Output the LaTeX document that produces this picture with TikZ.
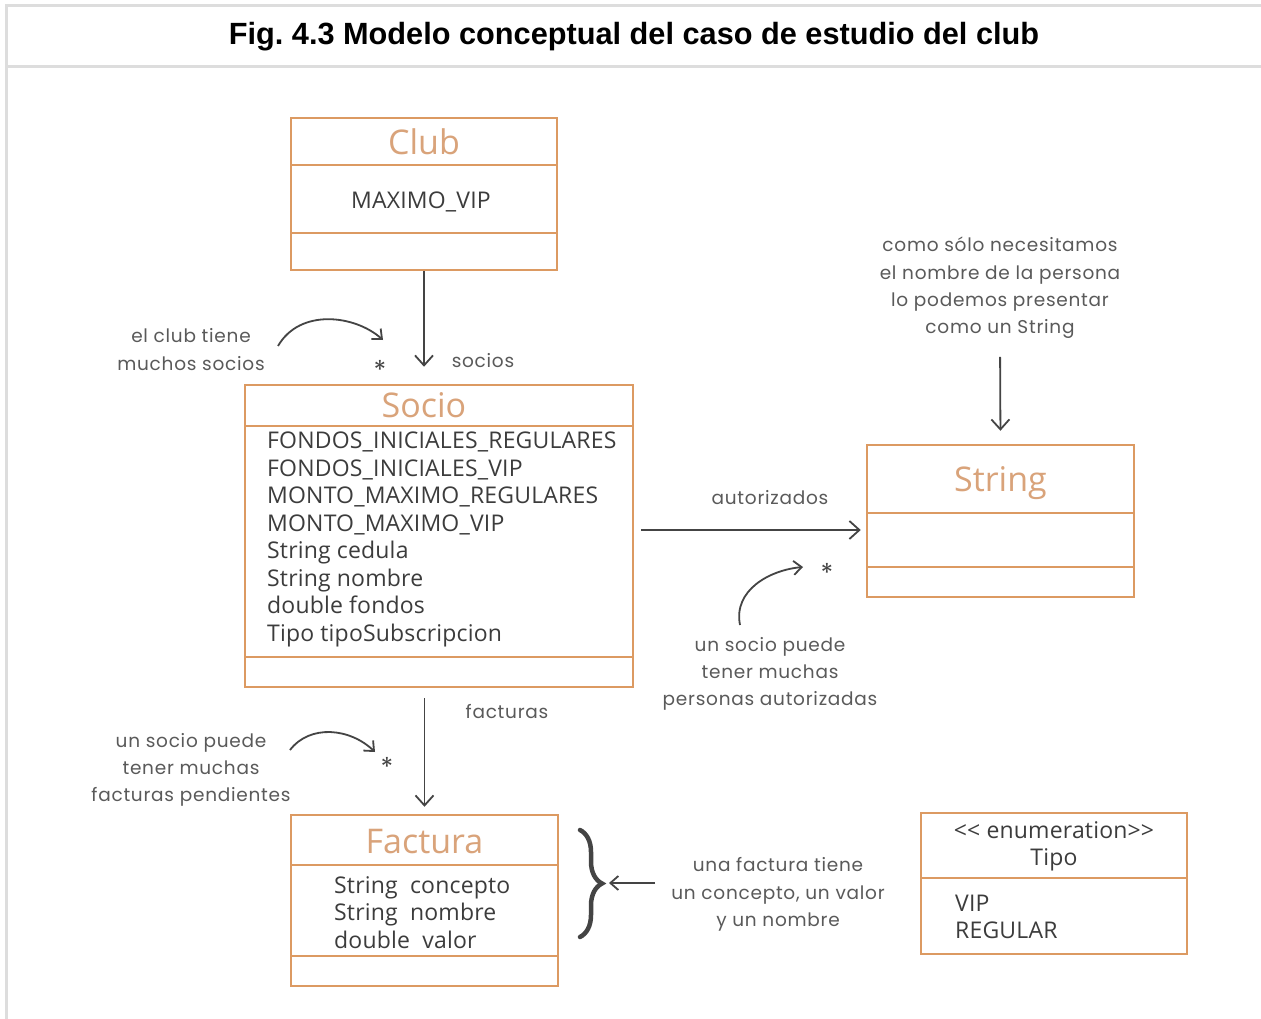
\documentclass[tikz,border=0pt]{standalone}
\usepackage{fontspec}
\newfontfamily\boxfont{Open Sans}[LetterSpace=0.8]
\newfontfamily\namefont{Open Sans}
\newfontfamily\titlefont{Liberation Sans}
\newfontfamily\handfont{Poppins}[LetterSpace=4]
\usetikzlibrary{arrows.meta,decorations.pathreplacing}
\definecolor{boxc}{HTML}{DC9A62}
\definecolor{namec}{HTML}{D9A37A}
\definecolor{txtc}{HTML}{3C3C3C}
\definecolor{annc}{HTML}{5A5A5A}
\definecolor{linec}{HTML}{444444}
\definecolor{framec}{HTML}{DDDDDD}
\begin{document}
\begin{tikzpicture}[x=1pt,y=-1pt,
  cbox/.style={draw=boxc, line width=2.5pt, inner sep=0pt},
  csep/.style={draw=boxc, line width=2.5pt},
  cname/.style={text=namec, font=\namefont\fontsize{34}{36}\selectfont, inner sep=0pt},
  attr/.style={text=txtc, font=\boxfont\fontsize{23}{27.5}\selectfont, align=left, inner sep=0pt, anchor=west},
  ann/.style={text=annc, font=\handfont\fontsize{18.5}{27.3}\selectfont, align=center, inner sep=0pt},
  arr/.style={draw=linec, line width=1.8pt, -{Straight Barb[length=10pt,width=18pt,line width=1.8pt]}},
  carr/.style={draw=linec, line width=1.8pt, -{Straight Barb[length=8pt,width=14pt,line width=1.8pt]}},
  star/.style={text=linec, font=\handfont\fontsize{26}{26}\selectfont, inner sep=0pt}
]
\useasboundingbox (0,0) rectangle (1261,1019);
\fill[white] (0,0) rectangle (1261,1019);
\draw[framec, line width=3pt] (6,1019) -- (6,6) -- (1261,6);
\draw[framec, line width=3pt] (6,67) -- (1261,67);
\node[font=\titlefont\bfseries\fontsize{30.7}{34}\selectfont, text=black] (title) at (634,37) {Fig.\ 4.3 Modelo conceptual del caso de estudio del club};

% Club
\node[cbox, minimum width=266pt, minimum height=152pt] (club) at (424,194) {};
\draw[csep] (291,165) -- (557,165);
\draw[csep] (291,233) -- (557,233);
\node[cname] (clubn) at (424,142) {Club};
\node[attr, anchor=center] (clubattr) at (421,202) {MAXIMO\_VIP};

% Socio
\node[cbox, minimum width=388pt, minimum height=302pt] (socio) at (439,536) {};
\draw[csep] (245,426) -- (633,426);
\draw[csep] (245,657) -- (633,657);
\node[cname] (socion) at (424,405) {Socio};
\node[attr] (socioattr) at (267,539.5) {FONDOS\_INICIALES\_REGULARES\\FONDOS\_INICIALES\_VIP\\MONTO\_MAXIMO\_REGULARES\\MONTO\_MAXIMO\_VIP\\String cedula\\String nombre\\double fondos\\Tipo tipoSubscripcion};

% String
\node[cbox, minimum width=267pt, minimum height=152pt] (string) at (1000.5,521) {};
\draw[csep] (867,513) -- (1134,513);
\draw[csep] (867,567) -- (1134,567);
\node[cname] (stringn) at (1000.5,483) {String};

% Factura
\node[cbox, minimum width=267pt, minimum height=171pt] (factura) at (424.5,900.5) {};
\draw[csep] (291,865) -- (558,865);
\draw[csep] (291,956) -- (558,956);
\node[cname] (facturan) at (424.5,842) {Factura};
\node[attr] (facturaattr) at (334,912.5) {String\ \ concepto\\String\ \ nombre\\double\ \ valor};

% Tipo
\node[cbox, minimum width=266pt, minimum height=141pt] (tipo) at (1054,883.5) {};
\draw[csep] (921,878) -- (1187,878);
\node[attr, align=center, anchor=center] (tipon) at (1054,846.5) {<< enumeration>>\\Tipo};
\node[attr] (tipoattr) at (955,917) {VIP\\REGULAR};

% annotations
\node[ann] (ann1) at (191,349.5) {el club tiene\\muchos socios};
\node[ann] (ann2) at (1000,288) {como sólo necesitamos\\el nombre de la persona\\lo podemos presentar\\como un String};
\node[ann] (ann3) at (770,674) {un socio puede\\tener muchas\\personas autorizadas};
\node[ann] (ann4) at (191,770) {un socio puede\\tener muchas\\facturas pendientes};
\node[ann] (ann5) at (778,894.5) {una factura tiene\\un concepto, un valor\\y un nombre};

\node[ann] (lsocios) at (483,361) {socios};
\node[ann] (lautor) at (770,498) {autorizados};
\node[ann] (lfact) at (507,712) {facturas};
\node[star] (s1) at (380,370) {*};
\node[star] (s2) at (827,573) {*};
\node[star] (s3) at (387,767) {*};

% connectors
\draw[arr, shorten >=17pt] (club.south) -- (club.south |- socio.north);
\draw[arr, shorten <=10pt, shorten >=7pt] (factura.north |- socio.south) -- (factura.north);
\draw[arr, shorten <=7pt, shorten >=5pt] ([yshift=6pt]socio.east) -- ([yshift=-9pt]string.west);
\draw[arr, shorten <=18pt, shorten >=13pt] (ann2.south) -- (string.north);

% curved arrows
\coordinate (c1a) at (278,346);
\coordinate (c1b) at (383,340);
\draw[carr] (c1a) .. controls (300,308) and (355,315) .. (c1b);
\coordinate (c2a) at (290,750);
\coordinate (c2b) at (375,752);
\draw[carr] (c2a) .. controls (310,724) and (350,728) .. (c2b);
\coordinate (c3a) at (740,625);
\coordinate (c3b) at (803,567);
\draw[carr] (c3a) .. controls (733,590) and (770,570) .. (c3b);

% brace
\draw[linec, line width=4.5pt, line cap=round, decorate, decoration={brace, amplitude=22pt}] (580,830) -- (580,937);
\coordinate (bracetip) at (609,883);
\coordinate (bstart) at (655,883);
\draw[carr] (bstart) -- (bracetip);
\end{tikzpicture}
\end{document}
